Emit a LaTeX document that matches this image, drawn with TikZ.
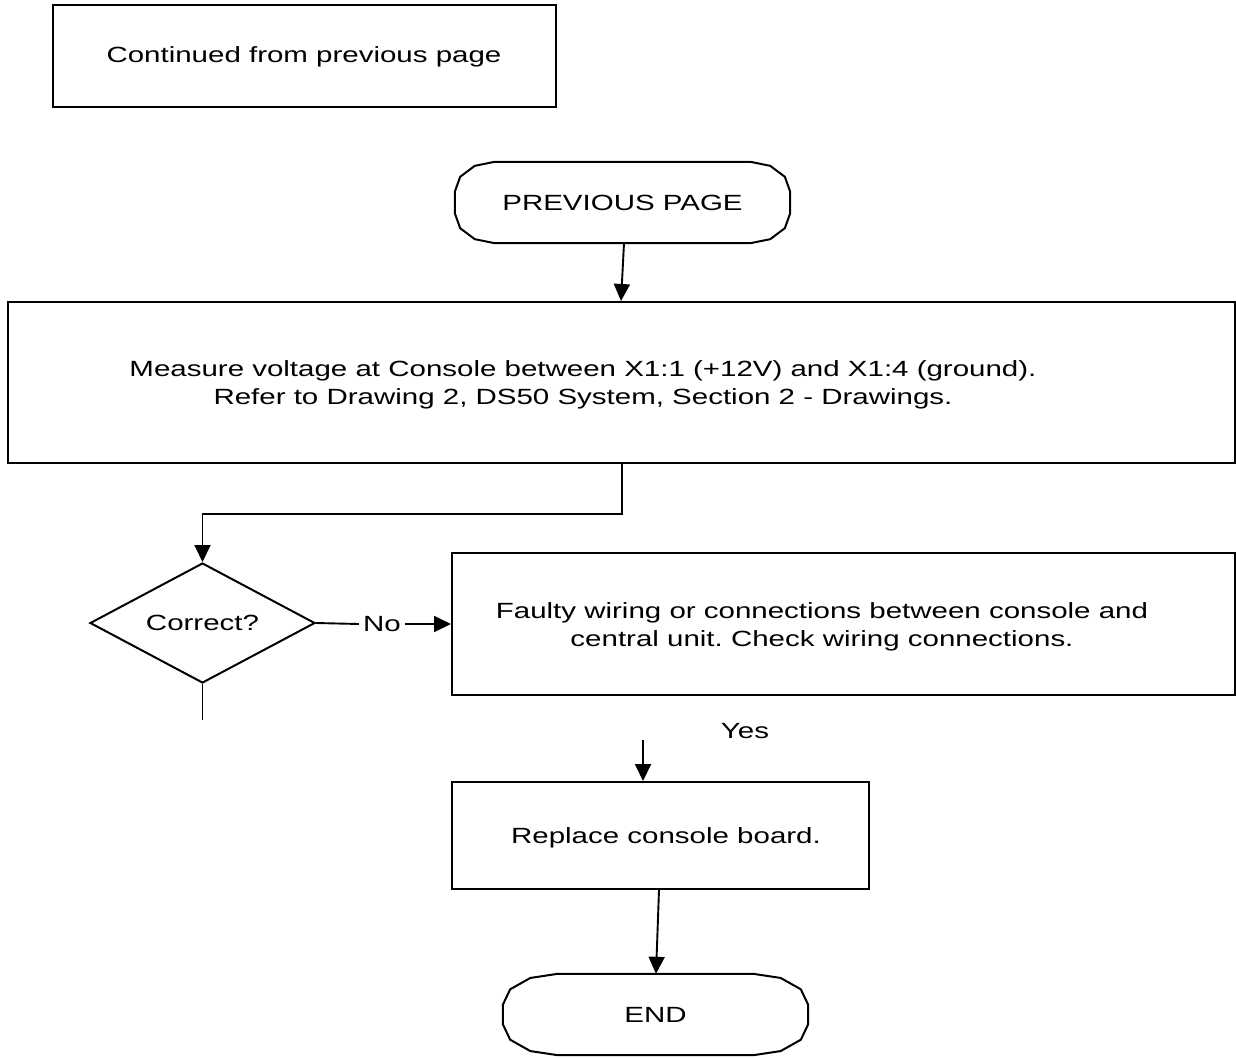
\documentclass[tikz,border=0pt]{standalone}
\usepackage{fontspec}
\setmainfont{Liberation Sans}[FakeStretch=1.34]
\usetikzlibrary{arrows.meta,shapes.geometric,calc}

% Outline of a terminal symbol: flat top and bottom, faceted rounded ends.
% #1 node name, #2 width of the rounded end, #3 height of the rounded corner
\newcommand\terminaloutline[3]{%
  \draw[frame] let \p1=(#1.north west), \p2=(#1.south east) in
    ({\x1+#2pt},\y1) -- ({\x2-#2pt},\y1)
    -- ({\x2-0.5*#2pt},{\y1-0.134*#3pt}) -- ({\x2-0.134*#2pt},{\y1-0.5*#3pt}) -- (\x2,{\y1-#3pt})
    -- (\x2,{\y2+#3pt})
    -- ({\x2-0.134*#2pt},{\y2+0.5*#3pt}) -- ({\x2-0.5*#2pt},{\y2+0.134*#3pt}) -- ({\x2-#2pt},\y2)
    -- ({\x1+#2pt},\y2)
    -- ({\x1+0.5*#2pt},{\y2+0.134*#3pt}) -- ({\x1+0.134*#2pt},{\y2+0.5*#3pt}) -- (\x1,{\y2+#3pt})
    -- (\x1,{\y1-#3pt})
    -- ({\x1+0.134*#2pt},{\y1-0.5*#3pt}) -- ({\x1+0.5*#2pt},{\y1-0.134*#3pt}) -- cycle;}

\tikzset{
  frame/.style={line width=2pt, line join=miter},
  box/.style={frame, draw, rectangle, inner sep=0pt, align=center},
  terminal/.style={rectangle, inner sep=0pt, align=center},
  decision/.style={frame, draw, diamond, inner sep=0pt, aspect=1.875},
  txt/.style={align=center, inner sep=0pt},
  flow/.style={line width=1.9pt, -{Triangle[width=16pt,length=17pt]}},
  wire/.style={line width=1.9pt},
}

\begin{document}
\frenchspacing
\fontsize{22pt}{28pt}\selectfont
\begin{tikzpicture}[x=1pt, y=-1pt]
  \useasboundingbox (0,0) rectangle (1236,1057);

  % continuation note
  \node[box, minimum width=503pt, minimum height=102pt] (note) at (304.5,56) {};
  \node[txt] (notetxt) at (304,57) {Continued from previous page};

  % start terminal
  \node[terminal, minimum width=335pt, minimum height=81pt] (prev) at (622.5,202.5) {PREVIOUS PAGE};
  \terminaloutline{prev}{40}{30}

  % measurement step
  \node[box, minimum width=1227pt, minimum height=161pt] (measure) at (621.5,382.5) {};
  \node[txt] (measuretxt) at (583,385) {Measure voltage at Console between X1:1 (+12V) and X1:4 (ground).\\
    Refer to Drawing 2, DS50 System, Section 2 - Drawings.};

  % decision
  \node[decision, minimum width=225pt, minimum height=120pt] (check) at (202.5,623) {Correct?};

  % fault branch
  \node[box, minimum width=783pt, minimum height=142pt] (faulty) at (843.5,624) {};
  \node[txt] (faultytxt) at (822,627) {Faulty wiring or connections between console and\\
    central unit. Check wiring connections.};

  % repair step
  \node[box, minimum width=417pt, minimum height=107pt] (replace) at (660.5,835.5) {};
  \node[txt] (replacetxt) at (666,838) {Replace console board.};

  % end terminal
  \node[terminal, minimum width=305pt, minimum height=81pt] (finish) at (655.5,1014.5) {END};
  \terminaloutline{finish}{55}{31}

  % connectors
  \draw[flow] ($(prev.south)+(1.5,0)$) -- ($(measure.north)+(-0.5,0)$);
  \draw[flow] (measure.south) ++(0.5,0) |- (202.5,514) -- (check.north);

  \node[txt, fill=white, inner xsep=4pt] (no) at (382,624) {No};
  \draw[wire] (check.east) -- (no.west);
  \draw[flow] (no.east) -- (faulty.west);

  \coordinate (dangle) at (202.5,720);
  \draw[wire] (check.south) -- (dangle);

  \node[txt] (yes) at (745,731) {Yes};
  \coordinate (yesin) at (643,740);
  \draw[flow] (yesin) -- (yesin |- replace.north);

  \draw[flow] ($(replace.south)+(-1.5,0)$) -- ($(finish.north)+(0.5,0)$);
\end{tikzpicture}
\end{document}
